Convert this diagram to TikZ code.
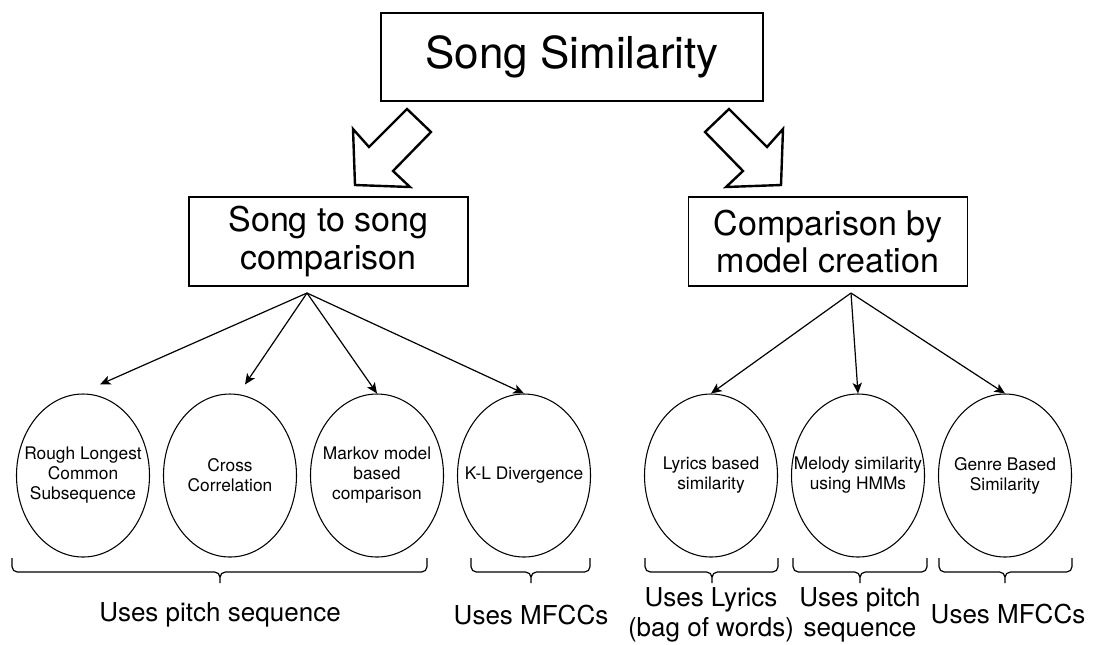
\documentclass[tikz,border=0pt]{standalone}
\usepackage{fontspec}
\setmainfont{TeX Gyre Heros}
\usetikzlibrary{arrows.meta,shapes.geometric}

\begin{document}
\begin{tikzpicture}[x=0.75pt, y=-0.75pt, node distance={110.25pt},
    box/.style = {draw, line width=0.8pt, inner sep=0pt, align=center},
    oval/.style = {draw, ellipse, line width=0.8pt, inner xsep=-15pt, inner ysep=0pt, minimum width=99.75pt, minimum height=122.25pt, align=center, font=\fontsize{13}{15}\selectfont},
    lbl/.style = {align=center, font=\fontsize{19.5}{22.5}\selectfont},
    link/.style = {-{Stealth[length=8pt, width=7pt, inset=2pt]}, line width=0.9pt},
    bigarrow/.style = {draw, line width=1.8pt, line join=miter},
    brc/.style = {draw, line width=0.9pt, rounded corners=4pt}]
    \useasboundingbox (0,0) rectangle (1094,644);

    \node[box, minimum width=286.5pt, minimum height=66pt, font=\fontsize{33}{40}\selectfont] (n_top) at (572,57) {Song Similarity};
    \node[box, minimum width=209.25pt, minimum height=66.75pt, font=\fontsize{25.5}{28}\selectfont] (n_song) at (328.5,241.5) {Song to song\\comparison};
    \node[box, minimum width=209.25pt, minimum height=66.75pt, font=\fontsize{25.5}{28}\selectfont] (n_model) at (828,241.5) {Comparison by\\model creation};

    % hollow arrows
    \draw[bigarrow] (407,109) -- (431,132) -- (393,171) -- (410,187) -- (355,185) -- (353,129) -- (369,147) -- cycle;
    \draw[bigarrow] (729,109) -- (705,132) -- (743,171) -- (726,187) -- (781,185) -- (783,129) -- (767,147) -- cycle;

    \coordinate (c_song) at (307,293);
    \coordinate (c_model) at (851,293);

    \node[oval] (e_1) at (83,475.5) {Rough Longest\\Common\\Subsequence};
    \node[oval] (e_2) [right of=e_1] {Cross\\Correlation};
    \node[oval] (e_3) [right of=e_2] {Markov model\\based\\comparison};
    \node[oval] (e_4) [right of=e_3] {K-L Divergence};
    \node[oval] (e_5) at (711,475.5) {Lyrics based\\similarity};
    \node[oval] (e_6) [right of=e_5] {Melody similarity\\using HMMs};
    \node[oval] (e_7) [right of=e_6] {Genre Based\\Similarity};

    \draw[link] (c_song) -- ([shift={(17,-9)}]e_1.north);
    \draw[link] (c_song) -- ([shift={(15,-9)}]e_2.north);
    \draw[link] (c_song) -- (e_3.north);
    \draw[link] (c_song) -- (e_4.north);
    \draw[link] (c_model) -- (e_5.north);
    \draw[link] (c_model) -- (e_6.north);
    \draw[link] (c_model) -- (e_7.north);

    % braces
    \foreach \a/\m/\b in {12/220/427, 471/531/590, 645/712/778, 793/860/927, 939/1005/1072}
      \draw[brc] (\a,558) -- (\a,572) -- (\m,572) -- (\m,583) (\b,558) -- (\b,572) -- (\m,572) -- (\m,583);

    \node[lbl] (l_pitch) at (220,615) {Uses pitch sequence};
    \node[lbl] (l_mfcc) at (531,615) {Uses MFCCs};
    \node[lbl] (l_lyrics) at (711,615) {Uses Lyrics\\(bag of words)};
    \node[lbl] (l_melody) at (860,615) {Uses pitch\\sequence};
    \node[lbl] (l_genre) at (1008,614) {Uses MFCCs};
\end{tikzpicture}
\end{document}
